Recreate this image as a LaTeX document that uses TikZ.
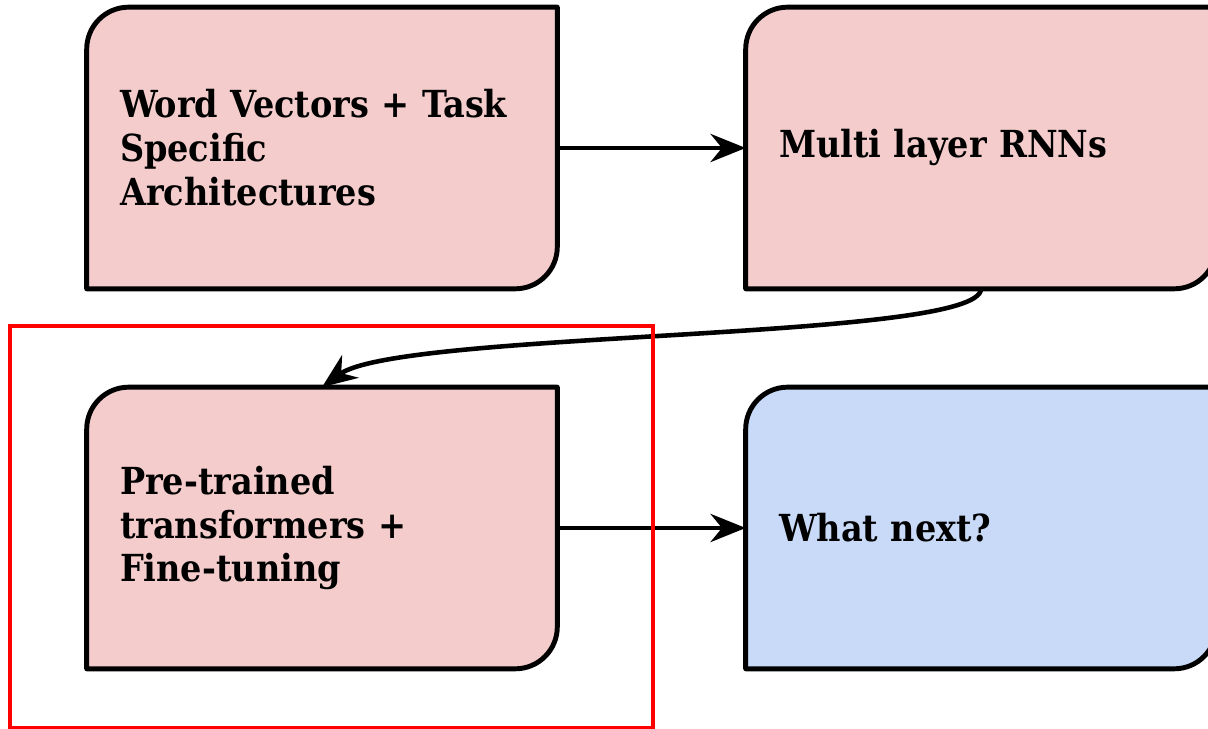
\documentclass[tikz,border=0pt]{standalone}
\usepackage{fontspec}
\setmainfont{DejaVu Serif Condensed}
\usepackage{tikz}
\usetikzlibrary{arrows.meta, calc, backgrounds}
\definecolor{stagepink}{HTML}{F4CCCC}
\definecolor{stageblue}{HTML}{C9DAF8}
\definecolor{markred}{HTML}{FF0000}
\tikzset{
  >=Stealth,
  flowarrow/.style={-{Stealth[length=20pt, width=16pt, inset=6.5pt]}, line width=2.6pt, black},
  stageline/.style={line width=2.8pt, draw=black, line join=round}
}

\begin{document}
\begin{tikzpicture}[
    x=0.02cm, y=0.02cm,
    stagebox/.style={rectangle, minimum width=9.4cm, minimum height=5.62cm, text width=8.08cm, inner xsep=0.66cm, inner ysep=0pt, align=left, font=\fontsize{21.2}{25}\selectfont\bfseries},
    markbox/.style={draw=markred, line width=1.8pt}
]
    % frame of the 1208 x 729 picture (units are pixels of the reference)
    \useasboundingbox (0,0) rectangle (1208,729);
    \clip (0,0) rectangle (1208,729);

    % Top row at y = 581
    \node[stagebox] (wv) at (322, 581) {Word Vectors + Task\\Specific\\Architectures};
    \node[stagebox] (rnn) at (981, 581) {Multi layer RNNs};

    % Bottom row at y = 201
    \node[stagebox] (pre) at (322, 201) {Pre-trained\\transformers +\\Fine-tuning};
    \node[stagebox] (nxt) at (981, 201) {What next?};

    % Box outlines: only top left and bottom right corners are rounded
    \begin{scope}[on background layer]
        \foreach \n/\c in {wv/stagepink, rnn/stagepink, pre/stagepink, nxt/stageblue}
            \draw[stageline, fill=\c] ($(\n.north west)+(0,-0.84cm)$) arc[start angle=180, end angle=90, radius=0.84cm] -- (\n.north east) -- ($(\n.south east)+(0,0.84cm)$) arc[start angle=0, end angle=-90, radius=0.84cm] -- (\n.south west) -- cycle;
    \end{scope}

    % Arrows
    \draw[flowarrow] (wv.east) -- (rnn.west);
    \draw[flowarrow] (rnn.south) .. controls +(0,-1.04cm) and +(1.56cm,1.14cm) .. (pre.north);
    \draw[flowarrow] (pre.east) -- (nxt.west);

    % Highlight round the third stage
    \draw[markbox] (10,1) rectangle (653,403);
\end{tikzpicture}
\end{document}
